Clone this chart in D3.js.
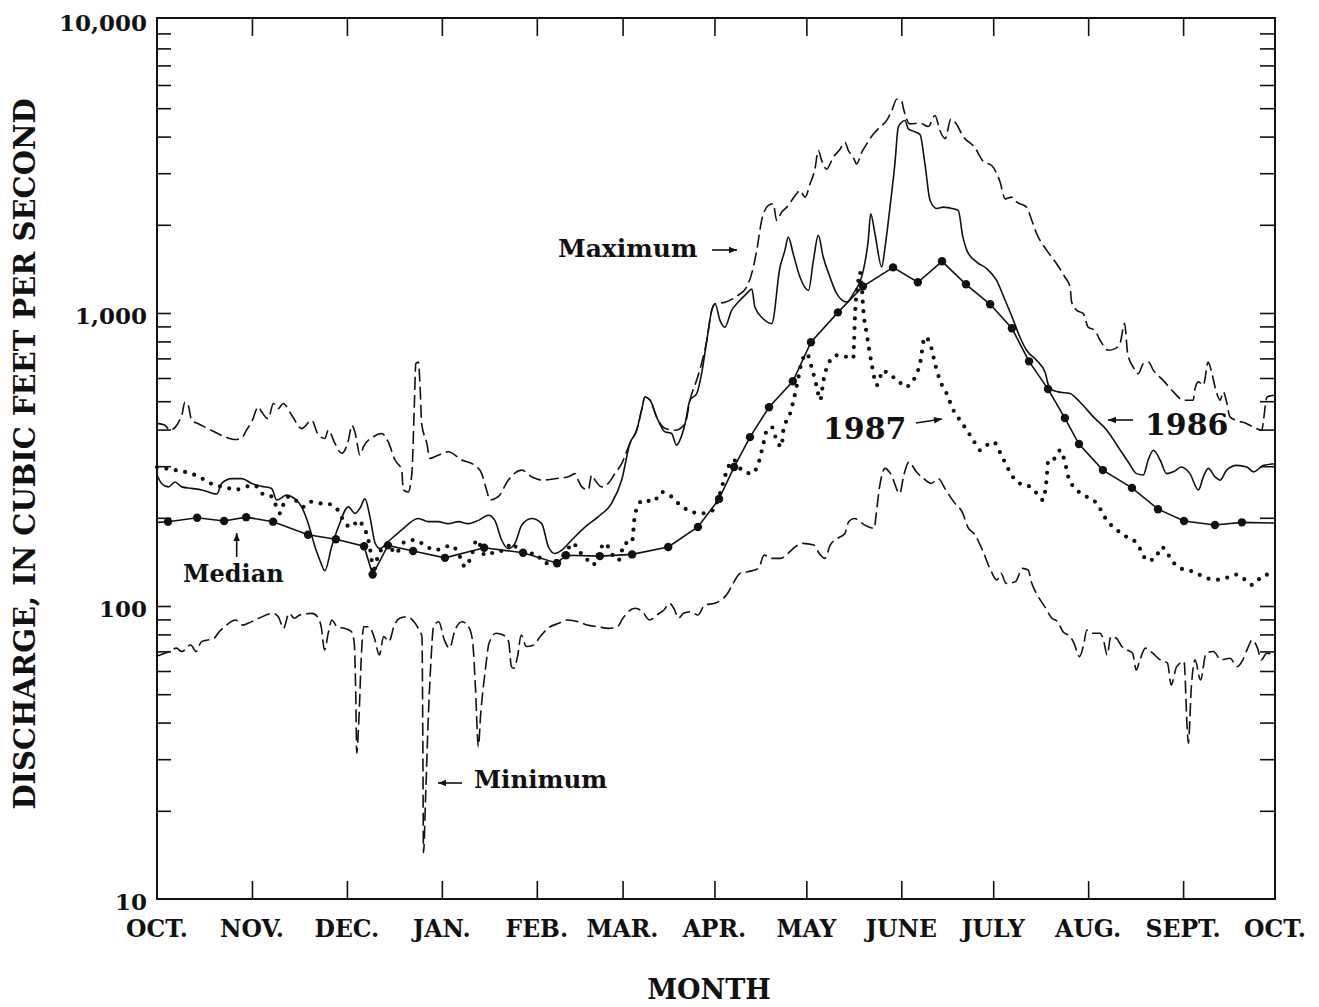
<!DOCTYPE html>
<html><head><meta charset="utf-8">
<script src="https://cdn.jsdelivr.net/npm/d3@7"></script>
<style>body{margin:0;background:#fff}svg{display:block}</style>
</head><body><svg id="c" width="1319" height="1007"></svg>
<script>
const monthLabels = ["OCT.","NOV.","DEC.","JAN.","FEB.","MAR.","APR.","MAY","JUNE","JULY","AUG.","SEPT.","OCT."];
const monthDays = [0,31,62,93,124,152,182,212,243,273,304,335,365];
const yTickLabels = [10,100,1000,10000];

// [day of water year, discharge in cfs]
const maximum = [[0,420],[2.6,414],[4.2,398],[8.1,448],[9.1,497],[10.2,484],[11.3,430],[13.5,419],[17.3,400],[22.2,378],[25.5,370],[27.7,375],[29.3,400],[30.9,425],[33.1,478],[34.2,459],[36.3,436],[38,491],[39.6,472],[41.2,491],[44,448],[47.2,403],[50.5,430],[52.7,383],[54.8,373],[55.9,398],[58.1,359],[60.3,332],[62.5,368],[63.6,414],[64.6,393],[66.3,327],[67.4,349],[70.6,378],[73.4,388],[75.5,363],[77.7,315],[79.9,291],[80.4,249],[82,245],[83.2,283],[84,478],[84.5,672],[85.3,680],[85.9,559],[86.4,419],[88.1,359],[89.1,319],[91.8,327],[95.1,336],[99.5,315],[103.8,302],[106,283],[107.6,249],[108.7,230],[111.4,236],[114.7,269],[119.1,291],[122.3,276],[125.6,269],[129.9,272],[134.3,276],[136.5,283],[137.5,269],[138.7,255],[140.8,249],[141.9,280],[143,269],[145.2,255],[147.3,262],[149.5,283],[151.7,306],[154.4,359],[156.6,398],[158.2,466],[159.3,517],[161,504],[163.1,442],[165.8,404],[169.1,398],[172.4,419],[174,504],[176.7,613],[179.5,807],[181.1,1021],[182.2,1076],[185.4,1088],[189.7,1149],[192.5,1226],[194.7,1435],[195.8,1636],[197.4,2070],[199.6,2329],[201.2,2359],[202.3,2070],[203.9,2209],[205.6,2298],[207.2,2422],[208.8,2552],[209.9,2619],[211.6,2485],[213.2,2759],[214.8,3097],[215.9,3586],[217,3315],[218.6,3097],[220.8,3402],[223,3623],[224.6,3827],[225.7,3586],[227.3,3402],[228.4,3229],[230.1,3538],[231.7,3777],[233.9,4085],[236,4305],[238.2,4537],[239.9,4908],[241.5,5366],[243.1,5308],[243.6,5037],[245.8,4420],[249.1,4449],[251.8,4329],[254,4719],[255.6,4195],[257.3,3938],[259.2,4596],[261.1,4398],[263,4034],[267.1,3657],[269.8,3289],[272.5,3187],[275.2,2811],[276.9,2452],[279,2485],[280.7,2390],[283.9,2298],[285.6,2070],[287.2,1864],[290.5,1636],[293.7,1473],[296.4,1327],[298.1,1226],[298.6,1090],[300.3,1021],[302.4,995],[304,895],[306.2,872],[307.9,807],[310.6,746],[312.8,756],[314.4,786],[315.9,922],[316.9,727],[318.7,654],[320.4,621],[322,672],[323.7,680],[325.3,637],[328.5,589],[331.8,538],[335.1,504],[338.3,504],[338.9,552],[340,582],[341.6,567],[343.2,680],[344.4,621],[346,531],[347.1,504],[348.1,538],[349.2,497],[350.3,442],[352.5,430],[355.8,419],[358,408],[360.7,398],[361.3,436],[362.4,517],[365,524]];

const minimum = [[0,67.5],[4,69.9],[6.3,71.8],[8.1,69.9],[11,73.6],[12.8,69.9],[14.5,75.6],[18.6,77.6],[20.3,81.7],[22.7,86.1],[25.6,89.6],[27.9,86.1],[29.7,87.3],[33.2,90.8],[37.8,94.4],[39.6,91.9],[41.3,83.9],[43.1,94.4],[44.8,90.8],[46.6,93.2],[50.6,94.4],[52.4,91.9],[53.6,85],[54.7,70.8],[55.9,80.7],[57.1,89.6],[58.8,85],[61.1,83.9],[63.5,81.7],[64.4,74.6],[64.9,49.1],[65.2,31.5],[66,43.1],[66.7,67.2],[67.5,85],[69.3,85],[71,77.6],[72.6,68.1],[74,78.6],[75.7,75.6],[77.5,86.1],[79.2,90.8],[81.6,91.9],[83.9,88.4],[85.6,82.8],[86.5,78.6],[86.8,33.1],[87,14.4],[87.7,22.4],[88.5,39.8],[89.4,63.8],[90.3,85],[92,88.4],[93.8,76.6],[95.5,71.8],[97.3,82.8],[99.6,88.4],[102,83.9],[103.1,74.6],[104,51.7],[104.9,33.1],[105.7,43.1],[107.2,60.5],[108.4,74.6],[110.7,80.7],[113,79.6],[114.8,75.6],[115.7,62.1],[116.5,61.3],[117.7,67.2],[118.9,79.6],[120.6,72.7],[123,73.6],[124.7,77.6],[127.6,83.9],[131.1,87.3],[134,89.6],[137.5,88.4],[140.4,86.1],[143.9,85],[147.4,83.9],[150.3,85],[152.1,90.8],[153.8,95.6],[156.2,98.2],[158.5,95.6],[160.8,89.6],[163.2,93.2],[165.5,96.9],[167.3,102.1],[169,96.9],[170.2,90.8],[171.9,94.4],[174.2,95.6],[176.6,93.2],[178.9,100.8],[182.1,102.1],[186.3,110.5],[188.1,119.5],[190.4,129.3],[192.9,130.9],[196.4,134.4],[198.2,149.2],[200.6,145.4],[203.6,145.4],[206,151.2],[208.4,159.3],[210.8,163.6],[214.4,161.4],[216.2,151.2],[218,145.4],[219.8,161.4],[222.2,170.1],[224.6,176.9],[225.8,193.8],[227.6,199],[231.1,188.8],[234.2,184],[234.7,201.6],[235.9,255],[237.7,295],[239.5,283],[242.5,242],[243.7,276],[245.5,310],[247.9,287],[250.3,272],[252.7,262],[255.1,272],[257.5,249],[260.5,224],[262.9,209],[264.7,186],[267.1,174.6],[269.5,155],[272.4,130.9],[274.2,122.6],[275.5,129.3],[277.2,119.5],[280.2,120.9],[282.6,134.4],[284.4,132.7],[285.6,119.5],[287.4,109],[289.8,99.5],[292.2,90.8],[294,88.4],[295.8,81.7],[298.2,78.6],[299.4,74.6],[301.2,67.2],[302.4,72.7],[303.6,82.8],[305.4,80.7],[307.8,80.7],[309,76.6],[310.2,68.1],[311.4,78.6],[313.2,77.6],[315,72.7],[316.7,70.8],[318.5,69],[319.7,60.5],[320.9,65.5],[322.7,71.8],[325.1,69],[327.5,65.5],[329.9,63.8],[331.1,53.8],[332.9,62.1],[335.3,64.6],[336.3,38.8],[336.7,34],[337.7,53.1],[338.9,65.5],[340.7,55.9],[342.5,69],[344.9,69.9],[347.3,65.5],[350.3,66.3],[352.7,62.1],[354.5,65.5],[356.3,72.7],[357.5,76.6],[359.3,71.8],[360.5,65.5],[362.3,69],[365,68.1]];

const median = [[0,193],[3.6,194],[13.1,200],[21.9,195],[29.1,201],[37.9,194],[49.3,175],[58.4,169],[67.6,160],[70.4,128],[75.4,161],[83.6,154],[94,146],[106.8,158],[119.5,152],[130.6,140],[133.5,149],[144.6,148],[155.1,150],[166.9,159],[176.6,186],[183.5,232],[188.4,298],[193.6,377],[199.8,477],[207.6,585],[213.5,795],[222.3,1005],[230.5,1233],[240.3,1431],[248.4,1273],[256.3,1501],[264.1,1253],[272,1071],[279.1,887],[284.7,684],[290.9,550],[296.4,438],[301,357],[308.8,291],[318.3,253],[326.8,214],[335.3,195],[345.4,189],[354.2,193],[365,192]];

const y1986 = [[0,280],[1.5,262],[3.7,255],[5.9,265],[8.1,255],[11.3,252],[14.6,249],[19.5,241],[21.1,262],[24.4,272],[27.7,272],[30.9,262],[34.2,256],[37.4,252],[39.1,230],[42.3,239],[44,236],[47.2,218],[49.4,191],[51.6,159],[53.2,143],[54.8,132],[57,159],[59.2,186],[62.5,218],[64.6,207],[66.3,216],[67.9,232],[69.5,202],[71.2,164],[72.8,157],[75.5,166],[79.9,182],[85.3,199],[88.6,194],[91.8,194],[95.1,191],[98.4,194],[101.6,191],[104.9,196],[108.2,204],[110.3,196],[112.5,168],[114.7,157],[116.9,164],[119.1,189],[122.3,199],[125.6,191],[127.8,159],[129.9,151],[132.1,155],[135.4,168],[139.7,186],[144.1,202],[148.4,224],[151.7,269],[154.4,359],[156.6,398],[158.2,466],[159.3,517],[161,504],[163.1,442],[165.8,393],[168,388],[169.6,354],[170.7,368],[172.4,419],[174,504],[176.2,531],[177.8,621],[179.5,807],[181.1,1021],[182.2,1076],[183.8,944],[185.4,895],[187.6,1021],[189.8,1090],[192.5,1164],[194.2,1208],[195.2,1048],[197.9,956],[200.7,920],[203.4,1435],[205,1636],[206.1,1816],[207.7,1593],[209.9,1327],[212.7,1195],[214.3,1512],[215.9,1840],[217.5,1552],[219.7,1327],[221.9,1164],[225.2,1090],[227.3,1164],[230.6,1398],[232.2,1769],[233,2180],[234.4,1864],[236.6,1435],[237.7,1679],[239.3,2298],[240.9,3229],[242,4305],[243.1,4477],[244.2,4537],[245.3,4250],[247.2,4162],[249.1,4066],[250.7,3237],[252.4,2422],[254.6,2273],[256.7,2298],[260,2268],[261.6,2239],[263,1840],[264.4,1636],[267.6,1492],[270.9,1417],[274.1,1293],[276.9,1105],[279.6,944],[281.7,828],[283.9,746],[287.2,689],[289.9,629],[291.5,552],[294.3,538],[298.1,531],[301.3,497],[305.7,442],[310.1,398],[313.8,349],[317.1,310],[319.8,283],[322,280],[323.6,315],[325.3,340],[327.5,315],[329.6,283],[331.8,287],[334.5,298],[337.2,283],[340,249],[341.6,276],[343.2,295],[345.4,276],[347.1,269],[349.2,291],[352.5,302],[355.8,298],[358,287],[361.3,302],[365,306]];

const y1987 = [[0,298],[2.6,295],[5.9,291],[9.1,287],[12.4,280],[15.7,269],[18.9,258],[22.2,255],[25.5,249],[28.7,255],[32,258],[34.2,242],[36.9,239],[38.5,224],[40.2,207],[41.2,221],[42.9,236],[45.1,230],[47.8,218],[50,227],[52.7,224],[54.8,224],[58.1,218],[59.7,207],[61.4,191],[63.6,186],[65.7,196],[67.4,186],[69,168],[70.1,143],[70.6,129],[71.7,143],[73.4,157],[75.5,164],[77.7,151],[81,166],[84.2,168],[87.5,161],[90.8,155],[94,159],[96.2,161],[98.4,151],[100.6,136],[102.7,149],[104.4,168],[107.1,149],[110.4,153],[113.6,155],[115.8,164],[118,155],[120.1,151],[123.4,151],[126.7,140],[129.9,142],[133.2,151],[135.9,164],[137.5,155],[139.7,147],[142.4,138],[144.1,151],[146.3,164],[148.4,151],[150.6,143],[152.8,164],[155,164],[156.1,207],[158.8,230],[162,227],[164.8,245],[168,236],[170.8,221],[173.5,212],[177.3,207],[180.5,209],[182.2,218],[183.8,242],[184.9,265],[186.5,298],[188.2,315],[190.9,291],[194.2,283],[196.3,306],[198,359],[199.1,398],[200.7,408],[202.3,368],[203.9,349],[204.5,398],[206.7,454],[208.8,559],[210.5,680],[212.1,727],[213.7,654],[215.4,559],[216.5,504],[217.6,589],[219.2,672],[221.9,717],[225.2,708],[227.3,699],[227.6,807],[227.9,995],[229,1293],[229.5,1376],[230.1,1226],[230.6,1021],[231.7,850],[233.3,672],[235,567],[237.1,637],[239.3,610],[241.5,597],[244.2,559],[246.9,589],[249.1,672],[250.7,828],[252.4,786],[254,672],[255.6,589],[257.8,531],[260,466],[262.2,430],[264.4,398],[266.5,368],[268.7,340],[270.9,354],[273.1,363],[275.4,332],[277.8,295],[280.8,265],[285,255],[287.3,242],[289.2,230],[290.4,269],[291,315],[293.2,319],[294.8,340],[296.4,310],[297.6,274],[300.3,249],[303.5,236],[306.8,224],[310.1,196],[313.3,182],[316.6,172],[319.8,164],[321.5,153],[323.1,143],[325.8,145],[328,159],[329.6,153],[331.3,143],[334.5,134],[338.3,131],[343.2,124],[347,123],[350.3,126],[352.5,128],[355.2,123],[357.4,118],[359.6,123],[361.8,128],[365,125]];

const FONT = "'DejaVu Serif', serif";
const svg = d3.select("#c");
svg.append("rect").attr("width",1319).attr("height",1007).attr("fill","#fff");

const x = d3.scaleLinear().domain([0,365]).range([157,1275]);
const y = d3.scaleLog().domain([10,10000]).range([899,20]);

const minorTicks = [];
for (const dec of [10,100,1000]) for (let k=1;k<=10;k++) minorTicks.push(dec*k);
const innerTicks = Array.from(new Set(minorTicks)).filter(v=>v>10 && v<10000);

function styleAxis(g){ g.select(".domain").remove(); g.selectAll(".tick line").attr("stroke","#111").attr("stroke-width",1.6); g.selectAll(".tick text").remove(); }

svg.append("g").attr("transform","translate(157,0)")
  .call(d3.axisRight(y).tickValues(innerTicks).tickSize(14).tickFormat("")).call(styleAxis);
svg.append("g").attr("transform","translate(1275,0)")
  .call(d3.axisLeft(y).tickValues(innerTicks).tickSize(15).tickFormat("")).call(styleAxis);
const inner = monthDays.slice(1,-1);
svg.append("g").attr("transform","translate(0,899)")
  .call(d3.axisTop(x).tickValues(inner).tickSize(18).tickFormat("")).call(styleAxis);
svg.append("g").attr("transform","translate(0,18)")
  .call(d3.axisBottom(x).tickValues(inner).tickSize(18).tickFormat("")).call(styleAxis);

// frame
svg.append("rect").attr("x",x(0)).attr("y",18).attr("width",x(365)-x(0)).attr("height",y(10)-18)
  .attr("fill","none").attr("stroke","#111").attr("stroke-width",2);

// y labels
const fmt = d3.format(",");
svg.append("g").selectAll("text").data(yTickLabels).join("text")
  .attr("x",147).attr("y",d=>y(d)+2).attr("text-anchor","end").attr("dominant-baseline","central")
  .attr("font-family",FONT).attr("font-weight","bold").attr("font-size",23).attr("fill","#111")
  .text(d=>fmt(d));

// x labels
svg.append("g").selectAll("text").data(monthDays).join("text")
  .attr("x",d=>x(d)).attr("y",937).attr("text-anchor","middle")
  .attr("font-family",FONT).attr("font-weight","bold").attr("font-size",23.5).attr("fill","#111")
  .text((d,i)=>monthLabels[i]);

// axis titles
svg.append("text").attr("x",709).attr("y",999).attr("text-anchor","middle")
  .attr("font-family",FONT).attr("font-weight","bold").attr("font-size",27).attr("fill","#111").text("MONTH");
svg.append("text").attr("transform","translate(35,454) rotate(-90)").attr("text-anchor","middle")
  .attr("font-family",FONT).attr("font-weight","bold").attr("font-size",29).attr("fill","#111")
  .text("DISCHARGE, IN CUBIC FEET PER SECOND");

const lineM = d3.line().x(d=>x(d[0])).y(d=>y(d[1])).curve(d3.curveMonotoneX);
const lineL = d3.line().x(d=>x(d[0])).y(d=>y(d[1]));

const plot = svg.append("g");
plot.append("path").datum(maximum).attr("d",lineM).attr("fill","none").attr("stroke","#111")
  .attr("stroke-width",1.6).attr("stroke-dasharray","13 5");
plot.append("path").datum(minimum).attr("d",lineM).attr("fill","none").attr("stroke","#111")
  .attr("stroke-width",1.6).attr("stroke-dasharray","13 5");
plot.append("path").datum(y1986).attr("d",lineM).attr("fill","none").attr("stroke","#111")
  .attr("stroke-width",1.6);
plot.append("path").datum(y1987).attr("d",lineM).attr("fill","none").attr("stroke","#111")
  .attr("stroke-width",4.2).attr("stroke-linecap","round").attr("stroke-dasharray","0 9.5");
plot.append("path").datum(median).attr("d",lineL).attr("fill","none").attr("stroke","#111")
  .attr("stroke-width",1.6);
plot.selectAll("circle.med").data(median.slice(1,-1)).join("circle").attr("class","med")
  .attr("cx",d=>x(d[0])).attr("cy",d=>y(d[1])).attr("r",4.2).attr("fill","#111");

// annotations
function label(t,xx,yy,size){
  svg.append("text").attr("x",xx).attr("y",yy).attr("font-family",FONT).attr("font-weight","bold")
    .attr("font-size",size).attr("fill","#111").text(t);
}
function arrow(x1,y1,x2,y2){
  svg.append("line").attr("x1",x1).attr("y1",y1).attr("x2",x2).attr("y2",y2).attr("stroke","#111").attr("stroke-width",1.6);
  const a=Math.atan2(y2-y1,x2-x1), L=8, W=3.2;
  const p=[[x2,y2],[x2-L*Math.cos(a)+W*Math.sin(a),y2-L*Math.sin(a)-W*Math.cos(a)],[x2-L*Math.cos(a)-W*Math.sin(a),y2-L*Math.sin(a)+W*Math.cos(a)]];
  svg.append("path").attr("d","M"+p.map(q=>q.join(",")).join("L")+"Z").attr("fill","#111");
}
label("Maximum",558,257,25); arrow(712,250,737,250);
label("Minimum",474,788,24.5); arrow(462,783,438,783);
label("Median",183,582,24); arrow(236.7,557,236.7,533);
label("1987",823,439,30); arrow(916,423,942,419);
label("1986",1145,435,30); arrow(1133,420,1108,420);
</script></body></html>
